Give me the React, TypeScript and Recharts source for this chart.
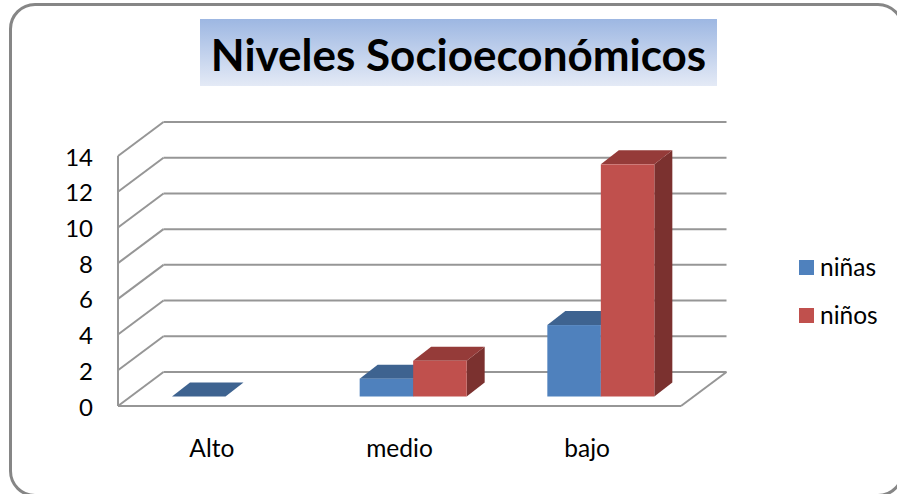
import React from 'react';
import { ComposedChart, Bar, XAxis, YAxis, CartesianGrid, Legend } from 'recharts';

const categories = ['Alto', 'medio', 'bajo'];
const ninas = [0, 1, 4];
const ninos = [0, 2, 13];
const yTicks = [0, 2, 4, 6, 8, 10, 12, 14];
const titleText = 'Niveles Socioeconómicos';

const data = categories.map((name, i) => ({ name, niñas: ninas[i], niños: ninos[i] }));

const FONT = 'Lato, "Open Sans", sans-serif';
const WALL_DX = 45.5;
const WALL_DY = -34;
const BAR_SHIFT_X = 14;
const BAR_SHIFT_Y = -9.5;
const BAR_DX = 18;
const BAR_DY = -14;
const GRID = '#969696';

const makeBar = (front: string, top: string, side: string) => (props: any) => {
  const { x, y, width, height, value } = props;
  const v = Array.isArray(value) ? value[1] - value[0] : value;
  const l = x + BAR_SHIFT_X;
  const t = y + BAR_SHIFT_Y;
  const r = l + width;
  const b = t + height;
  if (!v) {
    // a zero-height bar only shows when it belongs to the first series
    if (top !== '#3E6390') return <g />;
    return (
      <polygon
        points={`${l},${b} ${r},${b} ${r + BAR_DX},${b + BAR_DY} ${l + BAR_DX},${b + BAR_DY}`}
        fill={top}
      />
    );
  }
  return (
    <g>
      <polygon points={`${r},${t} ${r + BAR_DX},${t + BAR_DY} ${r + BAR_DX},${b + BAR_DY} ${r},${b}`} fill={side} />
      <polygon points={`${l},${t} ${r},${t} ${r + BAR_DX},${t + BAR_DY} ${l + BAR_DX},${t + BAR_DY}`} fill={top} />
      <rect x={l} y={t} width={width} height={height} fill={front} />
    </g>
  );
};

const blueBar = makeBar('#4F81BD', '#3E6390', '#34557E');
const redBar = makeBar('#C0504D', '#953B39', '#7B312F');

const gridLine = (props: any) => {
  const { x1, x2, y1, index } = props;
  const isFloor = index === 0;
  const stroke = { stroke: GRID, strokeWidth: 2 };
  return (
    <g key={`g-${y1}`}>
      <line x1={x1} y1={y1} x2={x1 + WALL_DX} y2={y1 + WALL_DY} {...stroke} />
      <line x1={x1 + WALL_DX} y1={y1 + WALL_DY} x2={x2 + WALL_DX} y2={y1 + WALL_DY} {...stroke} />
      {isFloor ? <line x1={x2} y1={y1} x2={x2 + WALL_DX} y2={y1 + WALL_DY} {...stroke} /> : null}
    </g>
  );
};

const LegendBody = (props: any) => (
  <div>
    {props.payload.map((p: any) => (
      <div key={p.value} style={{ display: 'flex', alignItems: 'center', height: 48 }}>
        <span style={{ width: 15, height: 15, background: p.color, marginRight: 6 }} />
        <span style={{ fontFamily: FONT, fontSize: 24.5, color: '#000', position: 'relative', top: -1 }}>{p.value}</span>
      </div>
    ))}
  </div>
);

export default function App() {
  return (
    <div style={{ position: 'fixed', left: 0, top: 0, width: 897, height: 494, background: '#fff', overflow: 'hidden' }}>
      <div
        style={{
          position: 'absolute', left: 9, top: 3, width: 895, height: 494, boxSizing: 'border-box',
          border: '3px solid #868686', borderRadius: 26,
        }}
      />
      <div
        style={{
          position: 'absolute', left: 200, top: 19, width: 517, height: 67,
          background: 'linear-gradient(180deg, #9DB7E2 0%, #E4EAF6 100%)',
          fontFamily: FONT, fontWeight: 700, fontSize: 44, lineHeight: '70px', textAlign: 'center', color: '#000',
          whiteSpace: 'nowrap',
        }}
      >
        {titleText}
      </div>
      <ComposedChart
        width={897}
        height={494}
        data={data}
        style={{ position: 'absolute', left: 0, top: 0 }}
        margin={{ top: 156, right: 126, bottom: 0, left: 0 }}
        barGap={0}
        barCategoryGap="43%"
      >
        <CartesianGrid vertical={false} horizontal={gridLine as any} stroke={GRID} />
        <XAxis
          dataKey="name"
          height={88}
          axisLine={{ stroke: GRID, strokeWidth: 2 }}
          tickLine={false}
          tick={{ fontFamily: FONT, fontSize: 24.5, fill: '#000' }}
          tickMargin={28}
          interval={0}
        />
        <YAxis
          width={118}
          domain={[0, 14]}
          ticks={yTicks}
          interval={0}
          axisLine={{ stroke: GRID, strokeWidth: 2 }}
          tickLine={false}
          tick={{ fontFamily: FONT, fontSize: 24, fill: '#000', dy: 1 }}
          tickMargin={19}
        />
        <Legend
          layout="vertical"
          align="right"
          verticalAlign="top"
          content={<LegendBody />}
          wrapperStyle={{ position: 'absolute', left: 799, top: 243, width: 90 }}
        />
        <Bar dataKey="niñas" fill="#4F81BD" barSize={53.5} shape={blueBar} isAnimationActive={false} />
        <Bar dataKey="niños" fill="#C0504D" barSize={53.5} shape={redBar} isAnimationActive={false} />
      </ComposedChart>
    </div>
  );
}
